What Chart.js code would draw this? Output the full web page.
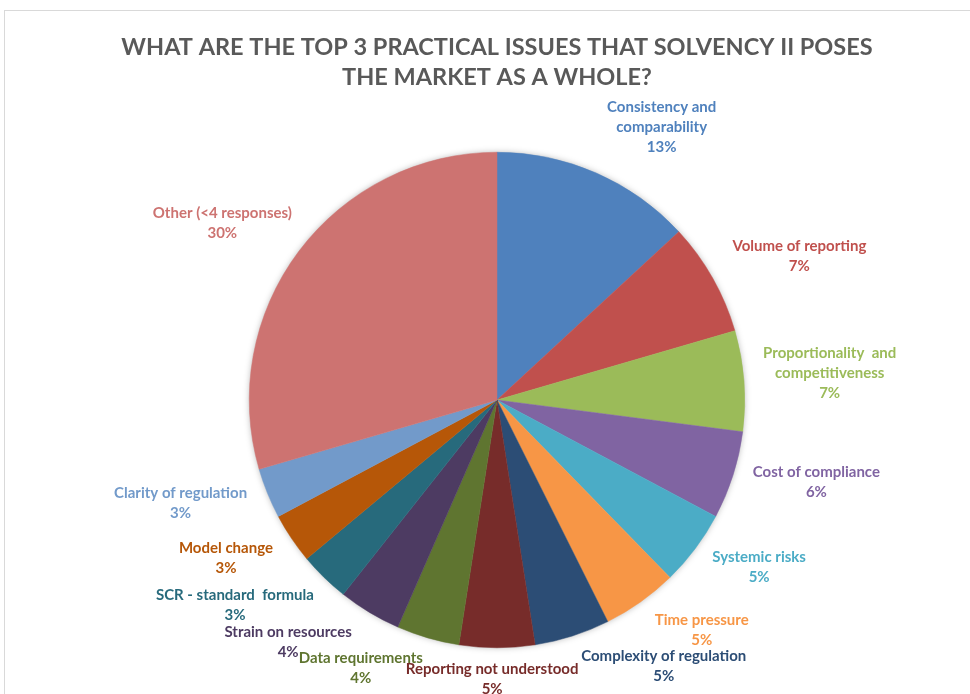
<!DOCTYPE html>
<html>
<head>
<meta charset="utf-8">
<script src="https://cdn.jsdelivr.net/npm/chart.js@4.4.1/dist/chart.umd.min.js"></script>
<style>
  html, body { margin: 0; padding: 0; background: #fff; }
  #wrap { width: 970px; height: 694px; position: relative; }
</style>
</head>
<body>
<div id="wrap"><canvas id="pieChart" width="970" height="694"></canvas></div>
<script>
// categories (clockwise from 12 o'clock)
const issues = [
    ['Consistency and', 'comparability'],
    ['Volume of reporting'],
    ['Proportionality  and', 'competitiveness'],
    ['Cost of compliance'],
    ['Systemic risks'],
    ['Time pressure'],
    ['Complexity of regulation'],
    ['Reporting not understood'],
    ['Data requirements'],
    ['Strain on resources'],
    ['SCR - standard  formula'],
    ['Model change'],
    ['Clarity of regulation'],
    ['Other (<4 responses)']
];
// number of responses per issue
const responses = [16, 9, 8, 7, 6, 6, 6, 6, 5, 5, 4, 4, 4, 36];

const sliceColors = [
    '#4F81BD', '#C0504D', '#9BBB59', '#8064A2', '#4BACC6', '#F79646', '#2C4D75',
    '#772C2A', '#5F7530', '#4D3B62', '#276A7C', '#B65708', '#729ACA', '#CD7371'
];

// label placement tweaks: angle shift (deg) from slice middle, distance past the rim (px)
const labelShift = [7.5, 4.1, -0.2, -3.3, -4.4, -6.3, -14.4, 1.0, 10.7, 9.8, 7.7, 3.7, 4.1, -4.1];
const labelGap = [71, 87, 86, 82, 63, 60, 66, 31, 53, 72, 85, 66, 85, 79];

const total = responses.reduce((a, b) => a + b, 0);

// soft shadow + frame behind the pie, like the office chart
const backdrop = {
    id: 'backdrop',
    beforeDraw(chart) {
        let c = chart.ctx;
        c.save();
        c.strokeStyle = '#d9d9d9';
        c.lineWidth = 1;
        c.strokeRect(4.5, 10.5, 1200, 1000);
        c.restore();
    },
    beforeDatasetsDraw(chart) {
        let arc = chart.getDatasetMeta(0).data[0];
        if (!arc) return;
        let p = arc.getProps(['x', 'y', 'outerRadius']);
        let c = chart.ctx;
        c.save();
        c.shadowColor = 'rgba(0,0,0,0.35)';
        c.shadowBlur = 7;
        c.fillStyle = '#fff';
        c.beginPath();
        c.arc(p.x, p.y, p.outerRadius - 1, 0, Math.PI * 2);
        c.fill();
        c.restore();
    }
};

const sliceLabels = {
    id: 'sliceLabels',
    afterDatasetsDraw(chart) {
        let c = chart.ctx;
        let meta = chart.getDatasetMeta(0);
        c.save();
        c.font = 'bold 15px Lato, "Open Sans", sans-serif';
        c.textAlign = 'center';
        c.textBaseline = 'middle';
        meta.data.forEach((arc, i) => {
            let p = arc.getProps(['x', 'y', 'startAngle', 'endAngle', 'outerRadius']);
            let mid = (p.startAngle + p.endAngle) / 2 + labelShift[i] * Math.PI / 180;
            let r = p.outerRadius + labelGap[i];
            let cx = p.x + Math.cos(mid) * r;
            let cy = p.y + Math.sin(mid) * r;
            let lines = issues[i].concat([Math.round(responses[i] / total * 100) + '%']);
            let lineH = 20;
            c.fillStyle = sliceColors[i];
            lines.forEach((t, k) => {
                c.fillText(t, cx, cy + (k - (lines.length - 1) / 2) * lineH);
            });
        });
        c.restore();
    }
};

let ctx = document.getElementById('pieChart').getContext('2d');
new Chart(ctx, {
    type: 'pie',
    data: {
        labels: issues.map(l => l.join(' ')),
        datasets: [{
            data: responses,
            backgroundColor: sliceColors,
            borderColor: sliceColors,
            borderWidth: 0.5
        }]
    },
    options: {
        responsive: false,
        animation: false,
        layout: {
            padding: { top: 10, left: 24, right: 0, bottom: 46 }
        },
        plugins: {
            legend: { display: false },
            tooltip: { enabled: false },
            title: {
                display: true,
                text: ['WHAT ARE THE TOP 3 PRACTICAL ISSUES THAT SOLVENCY II POSES', 'THE MARKET AS A WHOLE?'],
                color: '#595959',
                font: { family: 'Lato, "Open Sans", sans-serif', size: 23.5, weight: 'bold', lineHeight: 30 / 23.5 },
                padding: { top: 22, bottom: 60 }
            }
        }
    },
    plugins: [backdrop, sliceLabels]
});
</script>
</body>
</html>
